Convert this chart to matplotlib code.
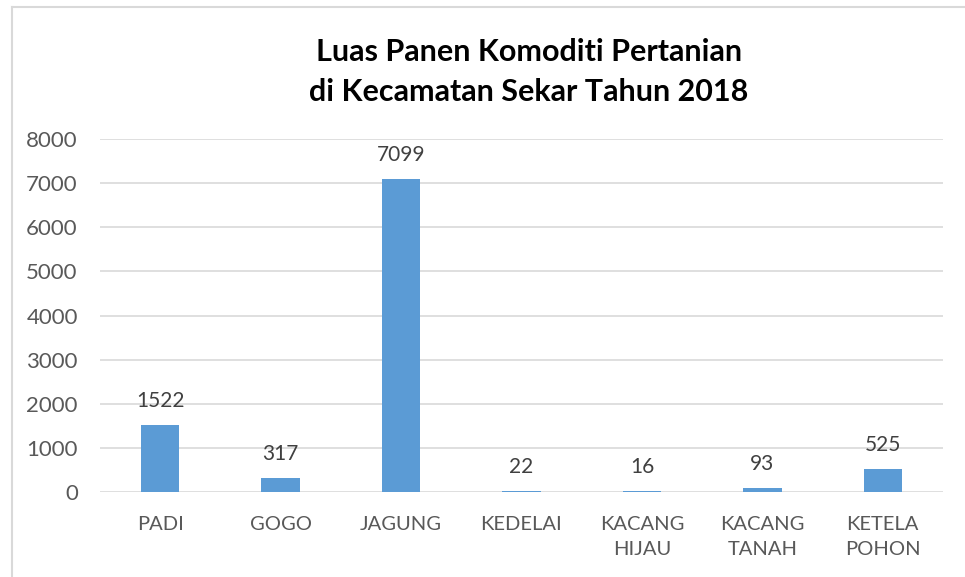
import matplotlib.pyplot as plt
from matplotlib.lines import Line2D

categories = ['PADI', 'GOGO', 'JAGUNG', 'KEDELAI', 'KACANG\nHIJAU', 'KACANG\nTANAH', 'KETELA\nPOHON']
values = [1522, 317, 7099, 22, 16, 93, 525]
yticks = [0, 1000, 2000, 3000, 4000, 5000, 6000, 7000, 8000]

W, H = 965, 577
fig = plt.figure(figsize=(W / 100, H / 100), dpi=100)
plt.rcParams['font.family'] = ['Lato', 'DejaVu Sans']

# plot area in pixels: x 100..943, y 139..492
ax = fig.add_axes([100 / W, 1 - 492 / H, 843 / W, (492 - 139) / H])
x = range(len(categories))
ax.bar(x, values, width=0.32, color='#5B9BD5', zorder=3)
for i, v in zip(x, values):
    ax.annotate(str(v), (i, v), xytext=(0, 10), textcoords='offset points',
                ha='center', va='bottom', fontsize=15, color='#404040')

ax.set_xlim(-0.5, len(categories) - 0.5)
ax.set_ylim(0, 8000)
ax.set_yticks(yticks)
ax.set_yticklabels([str(t) for t in yticks], fontsize=16, color='#595959')
ax.set_xticks(list(x))
ax.set_xticklabels(categories, fontsize=14.5, color='#595959', linespacing=1.6)
ax.tick_params(length=0, axis='y', pad=16)
ax.tick_params(length=0, axis='x', pad=17)
ax.grid(axis='y', color='#D9D9D9', linewidth=1.2, zorder=0)
for s in ax.spines.values():
    s.set_visible(False)

fig.text(529 / W, 1 - 72 / H, 'Luas Panen Komoditi Pertanian\ndi Kecamatan Sekar Tahun 2018',
         ha='center', va='center', fontsize=22, fontweight='bold', color='black', linespacing=1.5)

# outer chart frame (left and top edges visible)
fig.add_artist(Line2D([12 / W, 12 / W], [0, 1 - 7 / H], color='#D9D9D9', linewidth=1.5))
fig.add_artist(Line2D([12 / W, 1], [1 - 7 / H, 1 - 7 / H], color='#D9D9D9', linewidth=1.5))

fig.savefig('out.png', dpi=100, facecolor='white')
